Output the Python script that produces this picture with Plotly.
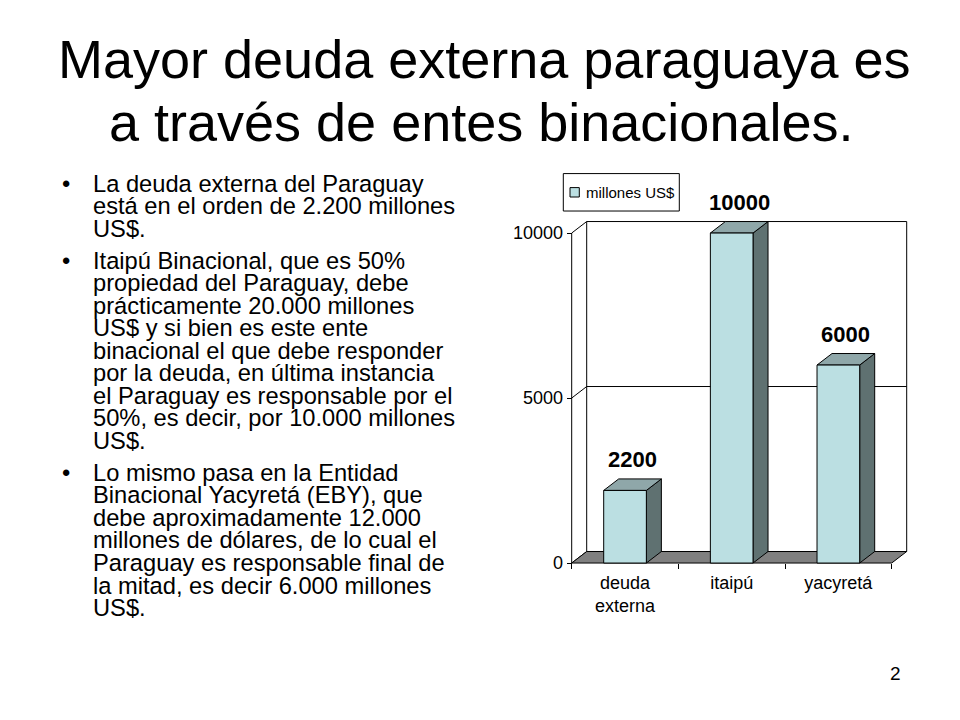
import plotly.graph_objects as go

# chart data
categories = ["deuda<br>externa", "itaipú", "yacyretá"]
values = [2200, 10000, 6000]
y_ticks = [0, 5000, 10000]
series_name = "millones US$"

# slide text
title_lines = ["Mayor deuda externa paraguaya es", "a través de entes binacionales."]
bullets = [
    ["La deuda externa del Paraguay",
     "está en el orden de 2.200 millones",
     "US$."],
    ["Itaipú Binacional, que es 50%",
     "propiedad del Paraguay, debe",
     "prácticamente 20.000 millones",
     "US$ y si bien es este ente",
     "binacional el que debe responder",
     "por la deuda, en última instancia",
     "el Paraguay es responsable por el",
     "50%, es decir, por 10.000 millones",
     "US$."],
    ["Lo mismo pasa en la Entidad",
     "Binacional Yacyretá (EBY), que",
     "debe aproximadamente 12.000",
     "millones de dólares, de lo cual el",
     "Paraguay es responsable final de",
     "la mitad, es decir 6.000 millones",
     "US$."],
]
page_number = "2"

FONT = "Liberation Sans, Arial, sans-serif"
FRONT = "#BBDFE2"
TOP = "#8FA7A9"
SIDE = "#5F7171"
FLOOR = "#808080"

# page body keeps its 8px margin; the shot comes out a little squeezed
# vertically, so target positions are stretched back by SY
OFF = 8
SY = 728 / 720
W, H = 960 - 2 * OFF, 728 - 2 * OFF


def fx(x):
    return x - OFF


def fy(y):
    return y * SY - OFF


# front plane of the 3d box (picture pixels) and its depth offset
X0, X1 = fx(571.7), fx(891.7)
Y0, Y1 = fy(562.3), fy(232.7)
DX, DY = 15, 11.5 * SY
PAD = 3

n = len(values)
xmin, xmax = -0.5, n - 0.5
ymax = y_ticks[-1]
ux = (X1 - X0) / (xmax - xmin)
uy = (Y0 - Y1) / ymax
ddx = DX / ux
ddy = DY / uy
bw = 0.4


def px(x):
    return fx(x) / W


def py(y):
    return 1 - fy(y) / H


fig = go.Figure()
fig.add_trace(go.Bar(
    x=list(range(n)), y=values, width=bw, name=series_name,
    marker=dict(color=FRONT, line=dict(color="black", width=1)),
    hoverinfo="skip", showlegend=False,
))

shapes = []
line = dict(color="black", width=1)
# back wall
shapes.append(dict(type="rect", xref="x", yref="y", layer="below",
                   x0=xmin + ddx, x1=xmax + ddx, y0=ddy, y1=ymax + ddy,
                   fillcolor="white", line=line))
for t in y_ticks:
    shapes.append(dict(type="line", xref="x", yref="y", layer="below",
                       x0=xmin, y0=t, x1=xmin + ddx, y1=t + ddy, line=line))
for t in y_ticks[1:-1]:
    shapes.append(dict(type="line", xref="x", yref="y", layer="below",
                       x0=xmin + ddx, y0=t + ddy, x1=xmax + ddx, y1=t + ddy, line=line))
# floor
shapes.append(dict(type="path", xref="x", yref="y", layer="below",
                   path=f"M{xmin},0 L{xmax},0 L{xmax + ddx},{ddy} L{xmin + ddx},{ddy} Z",
                   fillcolor=FLOOR, line=line))
# front value axis
shapes.append(dict(type="line", xref="x", yref="y", layer="below",
                   x0=xmin, y0=0, x1=xmin, y1=ymax, line=line))
# side and top faces of bars
for i, v in enumerate(values):
    r = i + bw / 2
    l = i - bw / 2
    shapes.append(dict(type="path", xref="x", yref="y", layer="below",
                       path=f"M{r},0 L{r + ddx},{ddy} L{r + ddx},{v + ddy} L{r},{v} Z",
                       fillcolor=SIDE, line=line))
    shapes.append(dict(type="path", xref="x", yref="y", layer="below",
                       path=f"M{l},{v} L{l + ddx},{v + ddy} L{r + ddx},{v + ddy} L{r},{v} Z",
                       fillcolor=TOP, line=line))

# legend box
shapes.append(dict(type="rect", xref="paper", yref="paper",
                   x0=px(563.3), x1=px(679.3), y0=py(210.7), y1=py(173.3),
                   fillcolor="white", line=line))
shapes.append(dict(type="rect", xref="paper", yref="paper",
                   x0=px(570), x1=px(579.3), y0=py(196.7), y1=py(187.3),
                   fillcolor=FRONT, line=line))

annotations = []


def text_line(txt, x, baseline, size, xanchor="left", weight="normal"):
    annotations.append(dict(
        text=txt, xref="paper", yref="paper", x=px(x),
        y=py(baseline - 0.347 * size), xanchor=xanchor, yanchor="middle",
        showarrow=False, font=dict(family=FONT, size=size, color="black", weight=weight),
    ))


text_line(title_lines[0], 484, 77.5, 54, "center")
text_line(title_lines[1], 481, 141, 54, "center")

base = 191.7
for para in bullets:
    text_line("•", 60, base, 23.7)
    for k, ln in enumerate(para):
        text_line(ln, 90.5, base + k * 22.5, 23.7)
    base += (len(para) - 1) * 22.5 + 31.9

text_line(series_name, 583.5, 197.3, 15)
text_line(page_number, 895, 679.3, 19, "center")

for i, v in enumerate(values):
    annotations.append(dict(
        text=f"{v}", xref="x", yref="y", x=i + ddx / 2, y=v + ddy, yshift=19,
        xanchor="center", yanchor="middle", showarrow=False,
        font=dict(family=FONT, size=22, color="black", weight="bold"),
    ))

fig.update_layout(
    width=W, height=H, margin=dict(l=0, r=0, t=0, b=0),
    paper_bgcolor="white", plot_bgcolor="rgba(0,0,0,0)",
    font=dict(family=FONT, color="black"),
    shapes=shapes, annotations=annotations, showlegend=False,
    xaxis=dict(
        range=[xmin - PAD / ux, xmax + (DX + PAD) / ux],
        domain=[(X0 - PAD) / W, (X1 + DX + PAD) / W],
        anchor="free", position=1 - Y0 / H,
        tickmode="array", tickvals=list(range(n)), ticktext=categories,
        ticks="", ticklabelstandoff=7, showgrid=False, zeroline=False, showline=False,
        tickfont=dict(family=FONT, size=18, color="black"),
        minor=dict(tickmode="array", tickvals=[xmin + k for k in range(n + 1)],
                   ticks="outside", ticklen=5, tickcolor="black", tickwidth=1, showgrid=False),
        fixedrange=True,
    ),
    yaxis=dict(
        range=[-PAD / uy, ymax + (DY + PAD) / uy],
        domain=[1 - (Y0 + PAD) / H, 1 - (Y1 - DY - PAD) / H],
        anchor="free", position=X0 / W,
        tickmode="array", tickvals=y_ticks, ticktext=[str(t) for t in y_ticks],
        ticks="outside", ticklen=5, tickcolor="black", tickwidth=1,
        showgrid=False, zeroline=False, showline=False,
        tickfont=dict(family=FONT, size=18, color="black"),
        fixedrange=True,
    ),
)

fig.write_html("out.html")
